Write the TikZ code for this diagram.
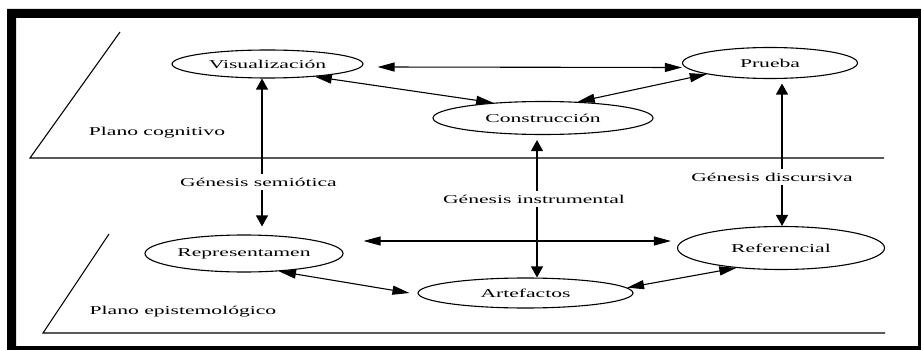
\documentclass[tikz,border=0pt]{standalone}
\usepackage{fontspec}
\setmainfont{Liberation Serif}[FakeStretch=1.8]
\usetikzlibrary{positioning,arrows.meta,calc,shapes.geometric}

\begin{document}
\begin{tikzpicture}[
  x=1pt, y=-1pt,
  font=\fontsize{12}{14}\selectfont,
  line width=1.1pt,
  ell/.style={draw, ellipse, inner sep=0pt},
  arr/.style={{Triangle[length=17pt,width=9pt]}-{Triangle[length=17pt,width=9pt]}},
  varr/.style={-{Triangle[length=11pt,width=12pt]}}
]
\useasboundingbox (0,0) rectangle (921,350);
\fill[even odd rule] (7,9) rectangle (921,350) (16,18) rectangle (918,346);
% planos
\draw (120,32) -- (30,158) -- (884,158);
\draw (109,234) -- (43,333) -- (885,333);
\node (pcog) at (157,133) {Plano cognitivo};
\node (pepi) at (183,312) {Plano epistemológico};
% plano cognitivo
\node[ell, minimum width=191pt, minimum height=28pt] (vis) at (267.5,64) {Visualización};
\node[ell, minimum width=175pt, minimum height=31pt] (pru) at (770,63) {Prueba};
\node[ell, minimum width=220pt, minimum height=33pt] (con) at (543,118) {Construcción};
\draw[arr] ([xshift=14pt,yshift=-3pt]vis.east) -- ([yshift=-4.5pt]pru.west);
\draw[arr] (vis.-15) -- (con.163);
\draw[arr] (con.25) -- (pru.-170);
% plano epistemologico
\node[ell, minimum width=198pt, minimum height=37pt] (rep) at (244,253.5) {Representamen};
\node[ell, minimum width=215pt, minimum height=30pt] (art) at (525.5,293) {Artefactos};
\node[ell, minimum width=207pt, minimum height=43pt] (ref) at (781,248) {Referencial};
\draw[arr] ([xshift=20pt,yshift=12.5pt]rep.east) -- ([xshift=-6pt,yshift=7pt]ref.west);
\draw[arr] (rep.-27) -- ([xshift=-8pt]art.west);
\draw[arr] (art.3) -- (ref.-156);
% genesis
\node (gsem) at (258.5,182) {Génesis semiótica};
\node (gins) at (534,199) {Génesis instrumental};
\node (gdis) at (772,177) {Génesis discursiva};
\draw[varr] ([xshift=3.5pt]gsem.north) -- ([xshift=3.5pt]gsem.north |- vis.south);
\draw[varr, shorten >=8pt] ([xshift=3.5pt]gsem.south) -- ([xshift=3.5pt]gsem.south |- rep.north);
\draw[varr, shorten >=5pt] ([xshift=3pt]gins.north) -- ([xshift=3pt]gins.north |- con.south);
\draw[varr] ([xshift=3pt]gins.south) -- ([xshift=3pt]gins.south |- art.north);
\draw[varr, shorten >=4.5pt] ([xshift=10pt]gdis.north) -- ([xshift=10pt]gdis.north |- pru.south);
\draw[varr] ([xshift=10pt]gdis.south) -- ([xshift=10pt]gdis.south |- ref.north);
\end{tikzpicture}
\end{document}
